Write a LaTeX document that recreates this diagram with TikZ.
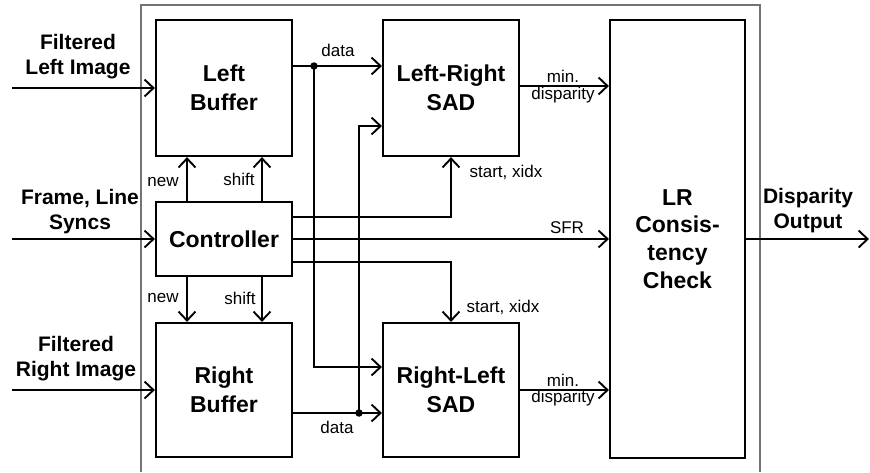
\documentclass[tikz,border=0pt]{standalone}
\usepackage{fontspec}
\setmainfont{Liberation Sans}
\usetikzlibrary{arrows.meta}

\begin{document}
\begin{tikzpicture}[x=1pt,y=-1pt,
  blk/.style={draw, line width=2.2pt, inner sep=0pt, align=center,
              font=\bfseries\fontsize{23}{29}\selectfont},
  io/.style={inner sep=0pt, align=center, font=\bfseries\fontsize{21}{25}\selectfont},
  sig/.style={inner sep=0pt, align=center, font=\fontsize{17}{16}\selectfont},
  wire/.style={line width=2.1pt},
  arr/.style={wire, -{Straight Barb[length=9pt,width=17pt,line width=1.9pt]}},
  jdot/.style={circle, fill, inner sep=0pt, minimum size=7.5pt},
  frame/.style={draw=black!55, line width=1.3pt}]

\useasboundingbox (0,0) rectangle (870,472);

% enclosing frame (open at the bottom)
\draw[frame] (141,472) -- (141,5) -- (760,5) -- (760,472);

% blocks
\node[blk, minimum width=136pt, minimum height=136pt] (lbuf)  at (224,88)  {Left\\Buffer};
\node[blk, minimum width=136pt, minimum height=74pt]  (ctrl)  at (224,239) {Controller};
\node[blk, minimum width=136pt, minimum height=134pt] (rbuf)  at (224,390) {Right\\Buffer};
\node[blk, minimum width=136pt, minimum height=136pt] (lrsad) at (451,88)  {Left-Right\\SAD};
\node[blk, minimum width=136pt, minimum height=134pt] (rlsad) at (451,390) {Right-Left\\SAD};
\node[blk, minimum width=135pt, minimum height=438pt, font=\bfseries\fontsize{23}{27.7}\selectfont]
  (lrc) at (677.5,239) {LR\\Consis-\\tency\\Check};

% external inputs and output
\coordinate (inL) at (12,88);
\coordinate (inF) at (12,239);
\coordinate (inR) at (12,390);
\coordinate (outEnd) at (869,239);
\draw[arr] (inL) -- (lbuf.west);
\draw[arr] (inF) -- (ctrl.west);
\draw[arr] (inR) -- (rbuf.west);
\draw[arr] (lrc.east) -- (outEnd);

\node[io] (tInL) at (78,57)  {Filtered\\Left Image};
\node[io] (tInF) at (80,212) {Frame, Line\\Syncs};
\node[io] (tInR) at (76,359) {Filtered\\Right Image};
\node[io] (tOut) at (808,211) {Disparity\\Output};

% controller to buffers
\coordinate (xNew) at (187,0);
\coordinate (xShift) at (262,0);
\draw[arr] (ctrl.north -| xNew)   -- (lbuf.south -| xNew);
\draw[arr] (ctrl.north -| xShift) -- (lbuf.south -| xShift);
\draw[arr] (ctrl.south -| xNew)   -- (rbuf.north -| xNew);
\draw[arr] (ctrl.south -| xShift) -- (rbuf.north -| xShift);
\node[sig] (tNewT)   at (163,182) {new};
\node[sig] (tShiftT) at (239,179) {shift};
\node[sig] (tNewB)   at (163,298) {new};
\node[sig] (tShiftB) at (240,298) {shift};

% data paths
\coordinate (yDataL) at (0,66);
\coordinate (yDataLx) at (0,367);
\coordinate (yDataR) at (0,413);
\coordinate (yDataRx) at (0,126);
\node[jdot] (dL) at (314,66) {};
\node[jdot] (dR) at (359,413) {};
\draw[arr] (lbuf.east |- yDataL) -- (lrsad.west |- yDataL);
\draw[arr] (dL.center) |- (rlsad.west |- yDataLx);
\draw[arr] (rbuf.east |- yDataR) -- (rlsad.west |- yDataR);
\draw[arr] (dR.center) |- (lrsad.west |- yDataRx);
\node[sig] (tDataT) at (338,50)  {data};
\node[sig] (tDataB) at (337,427) {data};

% controller to SAD units and consistency check
\coordinate (yStartL) at (0,217);
\coordinate (yStartR) at (0,262);
\draw[arr] (ctrl.east |- yStartL) -| (lrsad.south);
\draw[arr] (ctrl.east |- yStartR) -| (rlsad.north);
\draw[arr] (ctrl.east) -- (ctrl.east -| lrc.west);
\node[sig] (tStartT) at (506,172) {start, xidx};
\node[sig] (tStartB) at (503,307) {start, xidx};
\node[sig] (tSFR)    at (567,228) {SFR};

% SAD results
\coordinate (yMinT) at (0,86);
\coordinate (yMinB) at (0,390);
\draw[arr] (lrsad.east |- yMinT) -- (lrc.west |- yMinT);
\draw[arr] (rlsad.east |- yMinB) -- (lrc.west |- yMinB);
\node[sig, anchor=base] (tMinT1) at (563,82.5) {min.};
\node[sig, anchor=base] (tMinT2) at (563,99.5) {disparity};
\node[sig, anchor=base] (tMinB1) at (563,386)  {min.};
\node[sig, anchor=base] (tMinB2) at (563,402)  {disparity};

\end{tikzpicture}
\end{document}
